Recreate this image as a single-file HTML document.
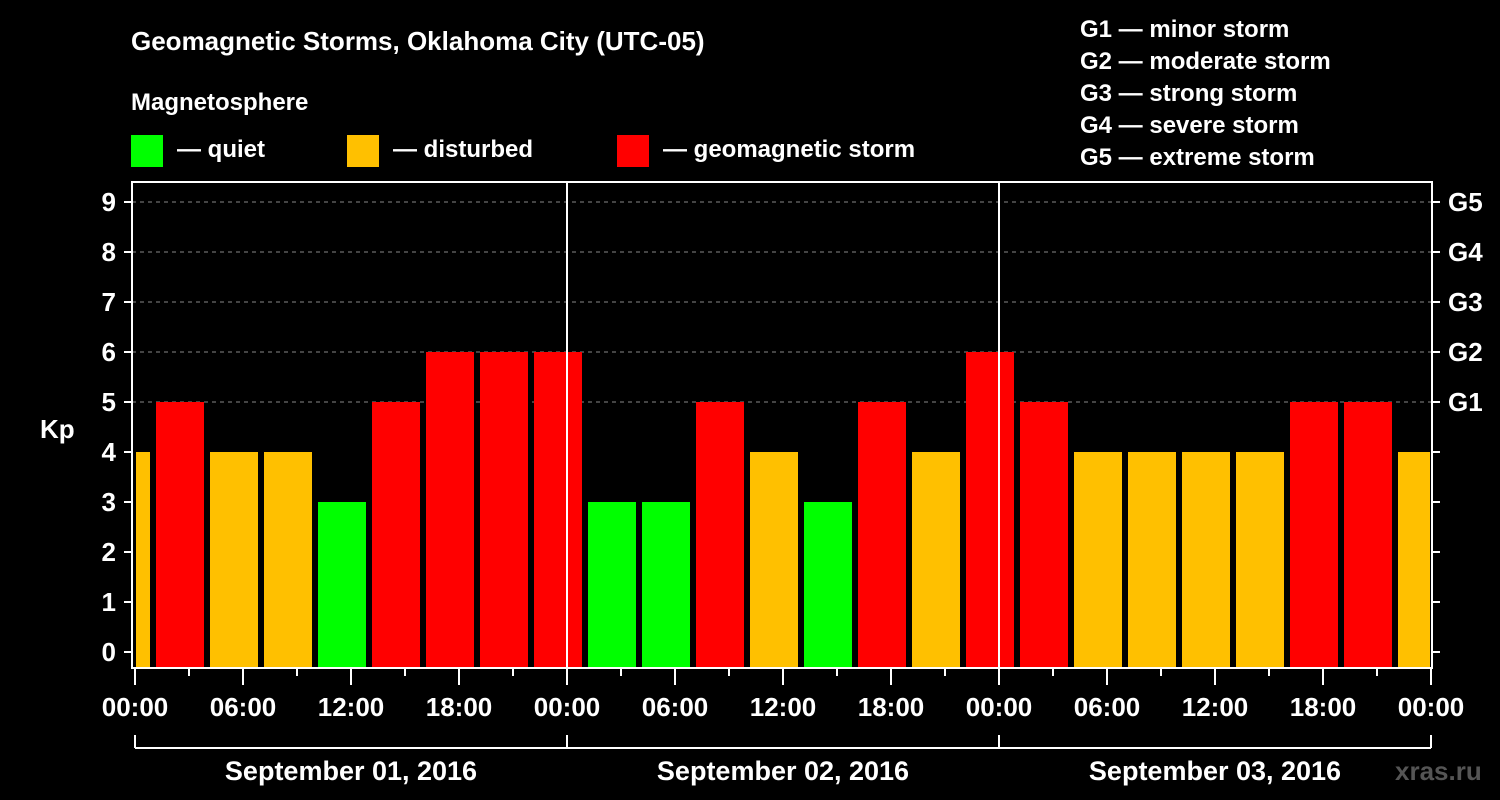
<!DOCTYPE html>
<html><head><meta charset="utf-8"><style>
html,body{margin:0;padding:0;background:#000;}
svg{display:block;font-family:"Liberation Sans",Arial,sans-serif;font-weight:bold;}
</style></head><body>
<svg id="chart" width="1500" height="800" xmlns="http://www.w3.org/2000/svg">
<rect width="1500" height="800" fill="#000"/>
<text x="131" y="50" fill="#fff" font-size="26">Geomagnetic Storms, Oklahoma City (UTC-05)</text>
<text x="131" y="110" fill="#fff" font-size="24">Magnetosphere</text>
<g><rect x="131" y="135" width="32" height="32" fill="#00ff00"/><text x="177" y="157" fill="#fff" font-size="24">— quiet</text></g>
<g><rect x="347" y="135" width="32" height="32" fill="#ffc000"/><text x="393" y="157" fill="#fff" font-size="24">— disturbed</text></g>
<g><rect x="617" y="135" width="32" height="32" fill="#ff0000"/><text x="663" y="157" fill="#fff" font-size="24">— geomagnetic storm</text></g>
<g fill="#fff" font-size="24">
<text x="1080" y="37">G1 — minor storm</text>
<text x="1080" y="69">G2 — moderate storm</text>
<text x="1080" y="101">G3 — strong storm</text>
<text x="1080" y="133">G4 — severe storm</text>
<text x="1080" y="165">G5 — extreme storm</text>
</g>
<text x="40" y="438" fill="#fff" font-size="26">Kp</text>
<text x="1395" y="780" fill="#555" font-size="26">xras.ru</text>
<g id="grid"></g><g id="bars"></g><g id="axes"></g>
</svg>
<script>
const kpValues=[4,5,4,4,3,5,6,6,6,3,3,5,4,3,5,4,6,5,4,4,4,4,5,5,4];
const yTicks=[0,1,2,3,4,5,6,7,8,9];
const gLabels=["G1","G2","G3","G4","G5"];
const gLevels=[5,6,7,8,9];
const dayLabels=["September 01, 2016","September 02, 2016","September 03, 2016"];
const timeLabels=["00:00","06:00","12:00","18:00"];
const NS="http://www.w3.org/2000/svg";
const L=132,R=1432,T=182,B=668,X0=135,PXH=18;
const xs=h=>X0+h*PXH;
const ys=v=>652-v*50;
function mk(tag,attrs,parent,txt){const e=document.createElementNS(NS,tag);for(const k in attrs)e.setAttribute(k,attrs[k]);if(txt!==undefined)e.textContent=txt;parent.appendChild(e);return e;}
const grid=document.getElementById('grid'),bars=document.getElementById('bars'),axes=document.getElementById('axes');
gLevels.forEach(v=>{const l=mk('line',{x1:L,x2:R,y1:ys(v),y2:ys(v),stroke:'#888','stroke-dasharray':'4,4','stroke-width':1},grid);

});
kpValues.forEach((v,i)=>{const c=xs(-0.5+3*i);let x1=Math.max(c-24,L+4),x2=Math.min(c+24,R-2);
const col=v>=5?'#ff0000':(v>=4?'#ffc000':'#00ff00');
const r=mk('rect',{x:x1,y:ys(v),width:x2-x1,height:B-1-ys(v),fill:col},bars);

});
for(let d=1;d<3;d++){const l=mk('line',{x1:xs(24*d),x2:xs(24*d),y1:T,y2:B,stroke:'#fff','stroke-width':2},axes);

}
const fr=mk('rect',{x:L,y:T,width:R-L,height:B-T,fill:'none',stroke:'#fff','stroke-width':2},axes);


yTicks.forEach(v=>{mk('line',{x1:L-8,x2:L,y1:ys(v),y2:ys(v),stroke:'#fff','stroke-width':2},axes);
mk('line',{x1:R,x2:R+8,y1:ys(v),y2:ys(v),stroke:'#fff','stroke-width':2},axes);
const t=mk('text',{x:L-16,y:ys(v)+9,fill:'#fff','font-size':26,'text-anchor':'end'},axes,String(v));

});
gLevels.forEach((v,i)=>{const t=mk('text',{x:R+16,y:ys(v)+9,fill:'#fff','font-size':26},axes,gLabels[i]);

});
for(let h=0;h<=72;h+=3){const long=h%6===0;mk('line',{x1:xs(h),x2:xs(h),y1:B,y2:long?B+17:B+8,stroke:'#fff','stroke-width':2},axes);
if(long){const t=mk('text',{x:xs(h),y:716,fill:'#fff','font-size':26,'text-anchor':'middle'},axes,timeLabels[(h/6)%4]);

}}
mk('line',{x1:xs(0),x2:xs(72),y1:748,y2:748,stroke:'#fff','stroke-width':2},axes);
for(let d=0;d<=3;d++)mk('line',{x1:xs(24*d),x2:xs(24*d),y1:735,y2:748,stroke:'#fff','stroke-width':2},axes);
dayLabels.forEach((s,d)=>{const t=mk('text',{x:xs(24*d+12),y:780,fill:'#fff','font-size':27,'text-anchor':'middle'},axes,s);

});
</script>
</body></html>
